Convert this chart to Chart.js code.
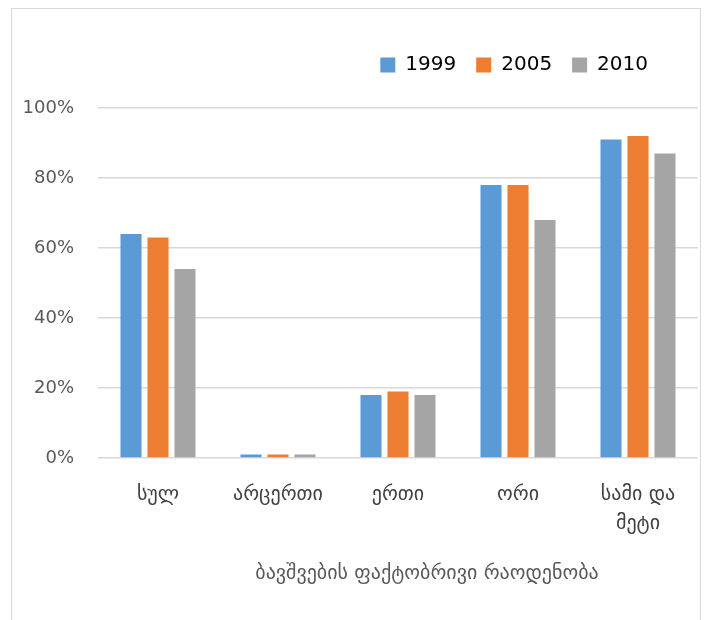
<!DOCTYPE html>
<html>
<head>
<meta charset="utf-8">
<script src="https://cdn.jsdelivr.net/npm/chart.js@4/dist/chart.umd.min.js"></script>
<style>
  html, body { margin: 0; padding: 0; background: #fff; }
  #wrap { position: relative; width: 707px; height: 620px; }
  #frame { position: absolute; left: 11px; top: 8px; width: 690px; height: 640px; border: 1px solid #d9d9d9; box-sizing: border-box; }
  canvas { position: absolute; left: 0; top: 0; }
</style>
</head>
<body>
<div id="wrap">
  <canvas id="c" width="707" height="620"></canvas>
  <div id="frame"></div>
</div>
<script>
const categories = ['სულ', 'არცერთი', 'ერთი', 'ორი', ['სამი და', 'მეტი']];
const seriesNames = ['1999', '2005', '2010'];
const values1999 = [64, 1, 18, 78, 91];
const values2005 = [63, 1, 19, 78, 92];
const values2010 = [54, 1, 18, 68, 87];
const yTicks = [0, 20, 40, 60, 80, 100];
const axisTitle = 'ბავშვების ფაქტობრივი რაოდენობა';
const colors = ['#5B9BD5', '#ED7D31', '#A5A5A5'];

const FONT = "'DejaVu Sans', sans-serif";

const titlePlugin = {
  id: 'xTitle',
  afterLayout(chart) {
    const lg = chart.legend;
    if (lg) { lg.right -= 30; lg.top -= 23; lg.bottom -= 23; }
  },
  afterDraw(chart) {
    const ctx = chart.ctx;
    ctx.save();
    ctx.font = '20px ' + FONT;
    ctx.fillStyle = '#595959';
    ctx.textAlign = 'center';
    ctx.textBaseline = 'middle';
    ctx.fillText(axisTitle, 427, 574);
    ctx.restore();
  }
};

new Chart(document.getElementById('c'), {
  type: 'bar',
  data: {
    labels: categories,
    datasets: [
      { label: seriesNames[0], data: values1999, backgroundColor: colors[0] },
      { label: seriesNames[1], data: values2005, backgroundColor: colors[1] },
      { label: seriesNames[2], data: values2010, backgroundColor: colors[2] }
    ]
  },
  options: {
    responsive: false,
    animation: false,
    devicePixelRatio: 1,
    layout: { padding: { top: 58, right: 9, left: 0, bottom: 0 } },
    datasets: { bar: { categoryPercentage: 0.675, barPercentage: 0.78 } },
    plugins: {
      tooltip: { enabled: false },
      legend: {
        position: 'top',
        align: 'end',
        labels: {
          boxWidth: 15,
          boxHeight: 15,
          padding: 20,
          color: '#000',
          font: { family: FONT, size: 20 }
        }
      }
    },
    scales: {
      x: {
        grid: { display: false, drawTicks: false },
        border: { display: false },
        ticks: {
          color: '#404040',
          padding: 22,
          font: { family: FONT, size: 20, lineHeight: 1.45 },
          maxRotation: 0,
          autoSkip: false
        },
        afterFit(scale) { scale.height = 162; }
      },
      y: {
        min: 0,
        max: 100,
        afterBuildTicks(scale) { scale.ticks = yTicks.map(v => ({ value: v })); },
        grid: { color: '#d9d9d9', lineWidth: 1.5, drawTicks: false },
        border: { display: false },
        ticks: {
          color: '#595959',
          padding: 24,
          font: { family: FONT, size: 18 },
          callback: v => v + '%'
        },
        afterFit(scale) { scale.width = 98; }
      }
    }
  },
  plugins: [titlePlugin]
});
</script>
</body>
</html>
